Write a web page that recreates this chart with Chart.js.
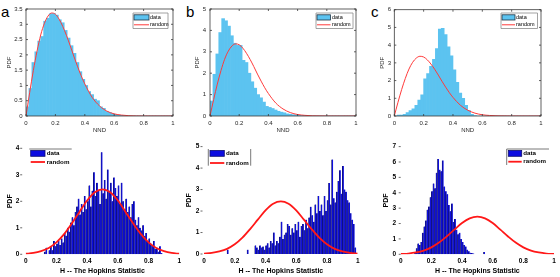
<!DOCTYPE html>
<html><head><meta charset="utf-8">
<script src="https://cdn.jsdelivr.net/npm/chart.js@4/dist/chart.umd.min.js"></script>
<style>
html,body{margin:0;padding:0;background:#fff;width:560px;height:277px;overflow:hidden;position:relative}
canvas{position:absolute}
.lbl{position:absolute;font-family:"Liberation Sans",Arial,sans-serif;font-size:15px;line-height:15px;color:#000}
</style></head><body>
<div class="lbl" style="left:1px;top:4px">a</div>
<div class="lbl" style="left:186px;top:4px">b</div>
<div class="lbl" style="left:371px;top:4px">c</div>
<script>
// ---------- DATA ----------
const nndTicks = [0, 0.2, 0.4, 0.6, 0.8, 1];
const hopTicks = [0, 0.2, 0.4, 0.6, 0.8, 1];
const nndBinCenters = Array.from({length: 50}, (_, i) => +(0.01 + 0.02 * i).toFixed(3));
const hopBinCenters = Array.from({length: 100}, (_, i) => +(0.005 + 0.01 * i).toFixed(4));

// panel a: NND histogram (PDF)
const aPdf = [0.3,0.9,1.75,2.1,2.45,2.6,3.1,3.2,3.35,3.35,3.3,3.15,3.05,2.8,2.55,2.3,2.05,1.75,1.45,1.2,
  1.0,0.8,0.7,0.55,0.5,0.3,0.25,0.15,0.12,0.08,0.05,0.03,0.02,0.01,0,0,0,0,0,0,
  0,0,0,0,0,0,0,0,0,0];
// panel b
const bPdf = [0.7,1.95,2.9,3.9,4.55,4.45,4.2,3.75,3.4,3.3,3.3,2.6,2.5,2.0,1.6,1.3,1.0,0.85,0.65,0.45,
  0.4,0.35,0.28,0.22,0.18,0.15,0.1,0.08,0.06,0.05,0.03,0.02,0.02,0.01,0,0,0,0,0,0,
  0,0,0,0,0,0,0,0,0,0];
// panel c
const cPdf = [0,0.05,0.05,0.1,0.2,0.3,0.4,0.6,0.9,1.2,2.1,2.4,2.8,3.2,3.8,4.9,4.95,4.6,3.9,3.4,
  2.6,1.9,1.3,1.0,0.6,0.3,0.1,0.03,0,0,0,0,0,0,0,0,0,0,0,0,
  0,0,0,0,0,0,0,0,0,0];
// random NND curve
const nndRandomX = [0,0.025,0.05,0.075,0.1,0.125,0.15,0.175,0.2,0.225,0.25,0.275,0.3,0.325,0.35,0.375,0.4,0.45,0.5,0.55,0.6,0.65,0.7,0.8,0.9,1.0];
const nndRandomY = [0,0.77,1.49,2.12,2.65,3.03,3.27,3.37,3.33,3.17,2.93,2.64,2.31,1.96,1.63,1.32,1.05,0.61,0.33,0.16,0.07,0.03,0.01,0,0,0];

// panel d: Hopkins statistic histogram
const dPdf = [0,0,0,0,0,0,0,0,0,0, 0,0,0.1,0.25,0,0.15,0.3,0.15,0.5,0.3,
  0.4,0.5,0.35,0.6,0.45,0.8,0.7,1.0,0.85,1.2, 1.4,1.1,1.6,1.8,2.1,1.5,1.9,1.6,2.2,1.7,
  2.0,2.6,1.8,2.4,3.1,2.2,2.7,2.4,1.9,3.85, 2.3,2.8,2.1,3.2,2.4,2.7,2.0,2.9,2.5,2.2,
  2.6,1.9,2.7,2.0,1.7,2.1,1.6,1.8,1.4,1.9, 2.0,1.3,1.1,1.4,1.0,0.9,1.1,0.7,0.8,0.5,
  0.6,0.4,0.35,0.5,0.2,0.25,0.1,0.3,0.05,0, 0,0,0,0,0,0,0,0,0,0];
// panel e
const ePdf = [0,0,0,0,0,0,0,0,0,0, 0,0,0,0,0,0.2,0,0,0,0,
  0,0,0,0,0,0,0,0,0.2,0, 0,0,0,0.4,0.3,0.2,0.4,0.3,0.35,0.2,
  0.4,0.5,0.3,0.6,0.5,1.0,0.4,0.6,0.5,0.8, 1.5,0.7,0.9,1.0,1.4,1.3,0.9,1.2,1.0,1.4,
  1.1,1.5,0.8,1.3,1.4,1.1,1.6,1.2,1.7,2.2, 1.8,1.5,2.3,1.9,2.7,2.0,2.3,1.8,2.7,2.0,
  2.5,3.3,2.3,4.4,2.6,2.4,2.9,3.4,3.9,2.8, 4.1,3.0,2.9,2.5,2.4,1.9,1.6,1.4,0.3,0];
// panel f
const fPdf = [0,0,0,0,0.05,0.05,0,0,0,0.1, 0.4,0.7,0.6,0.8,1.4,1.8,2.2,2.9,3.1,3.7,
  4.1,4.6,4.3,5.3,6.2,5.5,5.4,6.1,4.4,4.1, 3.9,3.2,2.8,3.3,2.1,2.3,1.6,1.3,1.4,1.0,
  0.8,0.6,0.5,0.3,0.2,0.1,0.08,0.05,0,0, 0,0,0,0,0.15,0,0,0,0,0,
  0,0,0,0,0,0,0,0,0,0, 0,0,0,0,0,0,0,0,0,0,
  0,0,0,0,0,0,0,0,0,0, 0,0,0,0,0,0,0,0,0,0];
// random Hopkins curve
const hopRandomX = [0,0.05,0.1,0.15,0.2,0.25,0.3,0.35,0.4,0.45,0.5,0.55,0.6,0.65,0.7,0.75,0.8,0.85,0.9,0.95,1];
const hopRandomY = [0.02,0.05,0.12,0.24,0.45,0.76,1.16,1.6,2.03,2.34,2.45,2.34,2.03,1.6,1.16,0.76,0.45,0.24,0.12,0.05,0.02];

const legendLabels = ['data', 'random'];
const yMaxTop = [3.5, 5, 6];
const yStepTop = [0.5, 1, 1];
const yMaxBottom = [4, 5, 7];

// ---------- DRAWING ----------
const FONT = '"Liberation Sans", Arial, Helvetica, sans-serif';

const decor = {
  id: 'decor',
  afterDatasetsDraw(chart, args, o) {
    const ctx = chart.ctx;
    const {left, right, top, bottom} = chart.chartArea;
    const xs = chart.scales.x, ys = chart.scales.y;
    const ox = o.ox, oy = o.oy;
    ctx.save();
    if (o.box) {
      ctx.strokeStyle = '#3a3a3a';
      ctx.lineWidth = 0.8;
      ctx.strokeRect(left, top, right - left, bottom - top);
      ctx.beginPath();
      xs.ticks.forEach(t => {
        const px = xs.getPixelForValue(t.value);
        ctx.moveTo(px, bottom); ctx.lineTo(px, bottom - 2);
        ctx.moveTo(px, top); ctx.lineTo(px, top + 2);
      });
      ys.ticks.forEach(t => {
        const py = ys.getPixelForValue(t.value);
        ctx.moveTo(left, py); ctx.lineTo(left + 2, py);
        ctx.moveTo(right, py); ctx.lineTo(right - 2, py);
      });
      ctx.stroke();
    } else {
      ctx.strokeStyle = '#444';
      ctx.lineWidth = 0.8;
      ctx.beginPath();
      ys.ticks.forEach(t => {
        const py = ys.getPixelForValue(t.value);
        ctx.moveTo(left - o.tickOff - 2, py); ctx.lineTo(left - o.tickOff, py);
      });
      ctx.stroke();
    }
    // legend
    const L = o.legend;
    const bx0 = L.box[0] - ox, by0 = L.box[1] - oy, bx1 = L.box[2] - ox, by1 = L.box[3] - oy;
    ctx.fillStyle = '#fff';
    ctx.fillRect(bx0, by0, bx1 - bx0, by1 - by0);
    ctx.strokeStyle = L.boxColor;
    ctx.lineWidth = 0.8;
    ctx.beginPath();
    if (L.sides.includes('t')) { ctx.moveTo(bx0, by0); ctx.lineTo(bx1, by0); }
    if (L.sides.includes('b')) { ctx.moveTo(bx0, by1); ctx.lineTo(bx1, by1); }
    if (L.sides.includes('l')) { ctx.moveTo(bx0, by0); ctx.lineTo(bx0, by1); }
    if (L.sides.includes('r')) { ctx.moveTo(bx1, by0); ctx.lineTo(bx1, by1); }
    ctx.stroke();
    const p = L.patch;
    ctx.fillStyle = L.patchColor;
    ctx.fillRect(p[0] - ox, p[1] - oy, p[2] - p[0], p[3] - p[1]);
    ctx.strokeStyle = L.patchEdge;
    ctx.lineWidth = 0.8;
    ctx.strokeRect(p[0] - ox, p[1] - oy, p[2] - p[0], p[3] - p[1]);
    ctx.strokeStyle = L.lineColor;
    ctx.lineWidth = L.lineWidth;
    ctx.beginPath();
    ctx.moveTo(p[0] - ox, L.lineY - oy); ctx.lineTo(p[2] - ox, L.lineY - oy);
    ctx.stroke();
    ctx.fillStyle = '#000';
    ctx.font = L.font;
    ctx.textBaseline = 'middle';
    ctx.textAlign = 'left';
    ctx.fillText(legendLabels[0], L.textX - ox, (p[1] + p[3]) / 2 - oy);
    ctx.fillText(legendLabels[1], L.textX - ox, L.lineY - oy);
    ctx.restore();
  }
};

function fmt(v) { return String(+(+v).toFixed(2)); }

function makePanel(p) {
  const [cx, cy, cw, ch] = p.canvas;
  const [pl, pr, pt, pb] = p.plot;
  const cv = document.createElement('canvas');
  cv.width = cw; cv.height = ch;
  cv.style.left = cx + 'px'; cv.style.top = cy + 'px';
  cv.style.width = cw + 'px'; cv.style.height = ch + 'px';
  document.body.appendChild(cv);
  const yW = pl - cx;
  const xH = p.xH;
  const top = p.top;
  const tickFont = {family: FONT, size: top ? 6 : 6.5, weight: top ? 'normal' : 'bold'};
  const titleFont = {family: FONT, size: top ? 6 : 7, weight: top ? 'normal' : 'bold'};
  const tickColor = top ? '#262626' : '#000';
  new Chart(cv, {
    type: 'bar',
    data: {
      datasets: [
        {
          type: 'line',
          data: p.curveX.map((x, i) => ({x, y: p.curveY[i]})),
          borderColor: top ? '#ff3a3a' : '#ff1818',
          borderWidth: top ? 1 : 1.8,
          pointRadius: 0,
          fill: false,
          cubicInterpolationMode: 'monotone',
          order: 0
        },
        {
          type: 'bar',
          data: p.centers.map((x, i) => ({x, y: p.hist[i]})),
          backgroundColor: top ? '#5cc3f0' : '#0d0de0',
          borderColor: top ? '#1e3342' : '#10104a',
          borderWidth: top ? 0 : {left: 0.6, right: 0, top: 0, bottom: 0},
          borderSkipped: false,
          barPercentage: 1,
          categoryPercentage: 1,
          grouped: false,
          order: 1
        }
      ]
    },
    options: {
      responsive: false,
      animation: false,
      devicePixelRatio: 1,
      events: [],
      layout: {padding: {left: 0, top: pt - cy, right: cx + cw - pr, bottom: cy + ch - pb - xH}},
      plugins: {
        legend: {display: false},
        tooltip: {enabled: false},
        decor: {box: top, ox: cx, oy: cy, tickOff: p.tickOff || 0, legend: p.legend}
      },
      scales: {
        x: {
          type: 'linear', min: 0, max: 1, offset: false,
          grid: {display: false, drawTicks: false},
          border: {display: false},
          afterBuildTicks: s => { s.ticks = p.xTicks.map(v => ({value: v})); },
          ticks: {font: tickFont, color: tickColor, padding: p.xPad, maxRotation: 0, autoSkip: false, callback: fmt},
          title: {display: true, text: p.xTitle, font: titleFont, color: tickColor, padding: {top: 0, bottom: p.xTitlePad}},
          afterFit: s => { s.height = xH; }
        },
        y: {
          type: 'linear', min: 0, max: p.ymax,
          grid: {display: false, drawTicks: false},
          border: {display: false},
          ticks: {font: tickFont, color: tickColor, stepSize: p.ystep, padding: p.yPad, callback: fmt},
          title: {display: true, text: 'PDF', font: titleFont, color: tickColor, padding: {top: p.yTitlePad, bottom: 0}},
          afterFit: s => { s.width = yW; }
        }
      }
    },
    plugins: [decor]
  });
}

const topLegend = (bx0, bx1, px1, tx) => ({
  box: [bx0, 13, bx1, 28.5], sides: 'tblr', boxColor: '#8a8a8a',
  patch: [bx0 + 1, 14.8, px1, 20], patchColor: '#5cc3f0', patchEdge: '#1e3342',
  lineY: 24.8, lineColor: '#ff3a3a', lineWidth: 1,
  textX: tx, font: '5.5px ' + FONT
});
const botLegend = (bx0, by0, bx1, by1, sides, px0, px1, tx, ly) => ({
  box: [bx0, by0, bx1, by1], sides, boxColor: '#555',
  patch: [px0, 150.5, px1, 156.3], patchColor: '#0d0de0', patchEdge: '#0d0d70',
  lineY: ly, lineColor: '#ff1818', lineWidth: 1.8,
  textX: tx, font: 'bold 6.2px ' + FONT
});

const panels = [
  {top: true, canvas: [0, 0, 180, 138], plot: [26, 173, 9, 116], xH: 22, centers: nndBinCenters, hist: aPdf,
   curveX: nndRandomX, curveY: nndRandomY, ymax: yMaxTop[0], ystep: yStepTop[0], xTicks: nndTicks, xTitle: 'NND',
   xPad: 3.5, xTitlePad: 4.4, yPad: 3.3, yTitlePad: 6, legend: topLegend(133, 168, 149, 150)},
  {top: true, canvas: [180, 0, 185, 138], plot: [210, 356, 9, 116], xH: 22, centers: nndBinCenters, hist: bPdf,
   curveX: nndRandomX, curveY: nndRandomY, ymax: yMaxTop[1], ystep: yStepTop[1], xTicks: nndTicks, xTitle: 'NND',
   xPad: 3.5, xTitlePad: 4.4, yPad: 4, yTitlePad: 14, legend: topLegend(316, 353, 330.5, 332)},
  {top: true, canvas: [365, 0, 195, 138], plot: [394.3, 541, 9.7, 116], xH: 22, centers: nndBinCenters, hist: cPdf,
   curveX: nndRandomX, curveY: nndRandomY, ymax: yMaxTop[2], ystep: yStepTop[2], xTicks: nndTicks, xTitle: 'NND',
   xPad: 3.5, xTitlePad: 4.4, yPad: 3.3, yTitlePad: 14, legend: topLegend(501, 537.5, 515, 516)},
  {top: false, canvas: [0, 138, 185, 139], plot: [25.7, 179.3, 145.7, 254.3], xH: 22, centers: hopBinCenters, hist: dPdf,
   curveX: hopRandomX, curveY: hopRandomY, ymax: yMaxBottom[0], ystep: 1, xTicks: hopTicks, xTitle: 'H -- The Hopkins Statistic',
   xPad: 2.8, xTitlePad: 1.1, yPad: 6.4, yTitlePad: 6.3, tickOff: 3.5,
   legend: botLegend(29.3, 149, 71.7, 166, 't', 30.7, 45, 46.7, 162)},
  {top: false, canvas: [185, 138, 180, 139], plot: [204, 357.7, 145.7, 254], xH: 22, centers: hopBinCenters, hist: ePdf,
   curveX: hopRandomX, curveY: hopRandomY, ymax: yMaxBottom[1], ystep: 1, xTicks: hopTicks, xTitle: 'H -- The Hopkins Statistic',
   xPad: 3.1, xTitlePad: 1.1, yPad: 4.7, yTitlePad: 0.2, tickOff: 1.5,
   legend: botLegend(208.3, 149, 250.7, 165.7, 'lr', 210, 224.3, 226, 163)},
  {top: false, canvas: [365, 138, 195, 139], plot: [400.7, 554, 145.7, 254.3], xH: 22, centers: hopBinCenters, hist: fPdf,
   curveX: hopRandomX, curveY: hopRandomY, ymax: yMaxBottom[2], ystep: 1, xTicks: hopTicks, xTitle: 'H -- The Hopkins Statistic',
   xPad: 2.8, xTitlePad: 1.1, yPad: 4.7, yTitlePad: 16.5, tickOff: 0,
   legend: botLegend(506.7, 149, 549, 165, 'tl', 508.3, 521.7, 523.3, 161.7)}
];

panels.forEach(makePanel);
</script>
</body></html>
